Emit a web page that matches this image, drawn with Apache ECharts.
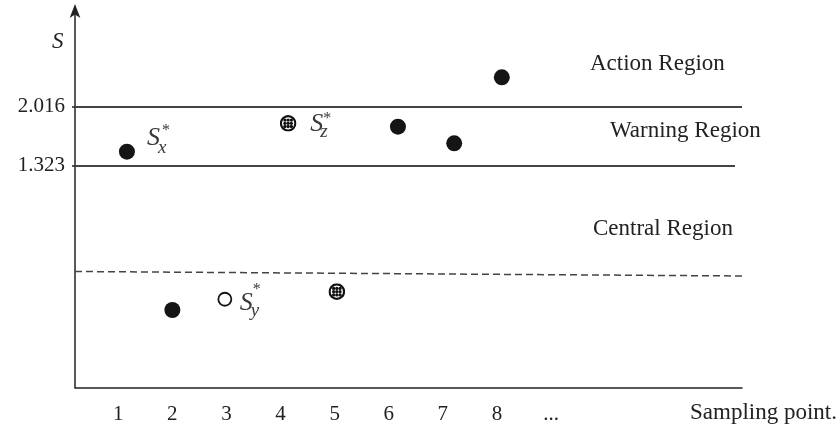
<!DOCTYPE html>
<html>
<head>
<meta charset="utf-8">
<script src="https://cdn.jsdelivr.net/npm/echarts@6/dist/echarts.min.js"></script>
<style>html,body{margin:0;padding:0;background:#fff}#c{width:838px;height:430px}</style>
</head>
<body>
<div id="c"></div>
<script>
// ---- data ----
const xTickValues = [1, 2, 3, 4, 5, 6, 7, 8, 9];
const xTickLabels = ['1', '2', '3', '4', '5', '6', '7', '8', '...'];
const yTickValues = [1.323, 2.016];
const yTickLabels = ['1.323', '2.016'];
const solidPoints = [[1.16, 1.49], [2.0, -0.354], [6.17, 1.781], [7.21, 1.587], [8.09, 2.356]];
const openPoints = [[2.97, -0.229]];
const hatchPoints = [[4.14, 1.82], [5.04, -0.141]];
const actionLimit = [[0.2, 2.016], [12.53, 2.016]];
const warningLimit = [[0.2, 1.323], [12.4, 1.323]];
const centralLine = [[0.2, 0.094], [12.53, 0.042]];
const regionNames = ['Action Region', 'Warning Region', 'Central Region'];
const annotations = [
  { sub: 'x', point: solidPoints[0] },
  { sub: 'y', point: openPoints[0] },
  { sub: 'z', point: hatchPoints[0] }
];

const FONT = '"Liberation Serif", "DejaVu Serif", serif';
const INK = '#222';

const hatchSvg = 'data:image/svg+xml;utf8,' + encodeURIComponent(
  '<svg xmlns="http://www.w3.org/2000/svg" width="36" height="36" viewBox="0 0 36 36">' +
  '<circle cx="18" cy="18" r="15.3" fill="#fff" stroke="#111" stroke-width="4.6"/>' +
  [-6.8, 0, 6.8].map(dy => [-6.8, 0, 6.8].map(dx =>
    '<circle cx="' + (18 + dx) + '" cy="' + (18 + dy) + '" r="3.5" fill="#111"/>').join('')).join('') +
  '</svg>');

const chart = echarts.init(document.getElementById('c'), null, { renderer: 'canvas' });

const option = {
  backgroundColor: '#fff',
  animation: false,
  grid: { left: 75, right: 96, top: 8, bottom: 42.5, containLabel: false },
  xAxis: {
    type: 'value', min: 0.2, max: 12.53,
    splitLine: { show: false },
    axisLine: { onZero: false, lineStyle: { color: INK, width: 1.5 } },
    axisTick: { show: false },
    axisLabel: {
      customValues: xTickValues,
      formatter: (v) => xTickLabels[xTickValues.indexOf(Math.round(v))] || '',
      color: INK, fontFamily: FONT, fontSize: 21, margin: 16
    }
  },
  yAxis: {
    type: 'value', min: -1.257, max: 3.163,
    splitLine: { show: false },
    axisLine: { onZero: false, lineStyle: { color: INK, width: 1.5 }, symbol: ['none', 'arrow'], symbolSize: [8, 14], symbolOffset: [0, 4] },
    axisTick: { customValues: yTickValues, length: 3, lineStyle: { color: INK, width: 1.5 } },
    axisLabel: {
      customValues: yTickValues,
      formatter: (v) => yTickLabels[yTickValues.indexOf(v)] || '',
      color: INK, fontFamily: FONT, fontSize: 21, margin: 10
    }
  },
  series: [
    {
      type: 'scatter', data: solidPoints, symbol: 'circle', symbolSize: 16,
      itemStyle: { color: '#151515', opacity: 1 },
      markLine: {
        silent: true, symbol: ['none', 'none'], label: { show: false },
        data: [
          [{ coord: actionLimit[0], lineStyle: { color: '#444', width: 2, type: 'solid' } }, { coord: actionLimit[1] }],
          [{ coord: warningLimit[0], lineStyle: { color: '#444', width: 2, type: 'solid' } }, { coord: warningLimit[1] }],
          [{ coord: centralLine[0], lineStyle: { color: '#444', width: 1.5, type: [7, 4] } }, { coord: centralLine[1] }]
        ]
      }
    },
    {
      type: 'scatter', data: openPoints, symbol: 'circle', symbolSize: 13,
      itemStyle: { color: '#fff', borderColor: '#151515', borderWidth: 1.8, opacity: 1 }
    },
    {
      type: 'scatter', data: hatchPoints, symbol: 'image://' + hatchSvg, symbolSize: 17,
      itemStyle: { opacity: 1 }
    }
  ],
  graphic: []
};
chart.setOption(option);

// text graphics (y = vertical middle of the text)
const txt = (x, y, text, font, fill) => ({
  type: 'text', x: x, y: y,
  style: { text: text, font: font, fill: fill || INK, verticalAlign: 'middle', align: 'left' }
});
const g = [];
g.push(txt(52, 42, 'S', 'italic 23px ' + FONT));
const regionPos = [[590, 64], [610, 131], [593, 229]];
regionNames.forEach((t, i) => g.push(txt(regionPos[i][0], regionPos[i][1], t, '23px ' + FONT)));
g.push(txt(690, 413, 'Sampling point.', '23px ' + FONT));
// offsets from each annotated point: [S dx, S dy, star dx, star dy, sub dx, sub dy]
const annOffsets = [
  [20, -13, 35, -21, 31, -4],
  [15, 4, 28, -9, 26, 12],
  [22, 1, 35, -5, 32, 9]
];
annotations.forEach((a, i) => {
  const p = chart.convertToPixel({ gridIndex: 0 }, a.point);
  const o = annOffsets[i];
  g.push(txt(p[0] + o[0], p[1] + o[1], 'S', 'italic 26px ' + FONT, '#3a3a3a'));
  g.push(txt(p[0] + o[2], p[1] + o[3], '*', '16px ' + FONT, '#3a3a3a'));
  g.push(txt(p[0] + o[4], p[1] + o[5], a.sub, 'italic 19px ' + FONT, '#3a3a3a'));
});
chart.setOption({ graphic: g });
</script>
</body>
</html>
